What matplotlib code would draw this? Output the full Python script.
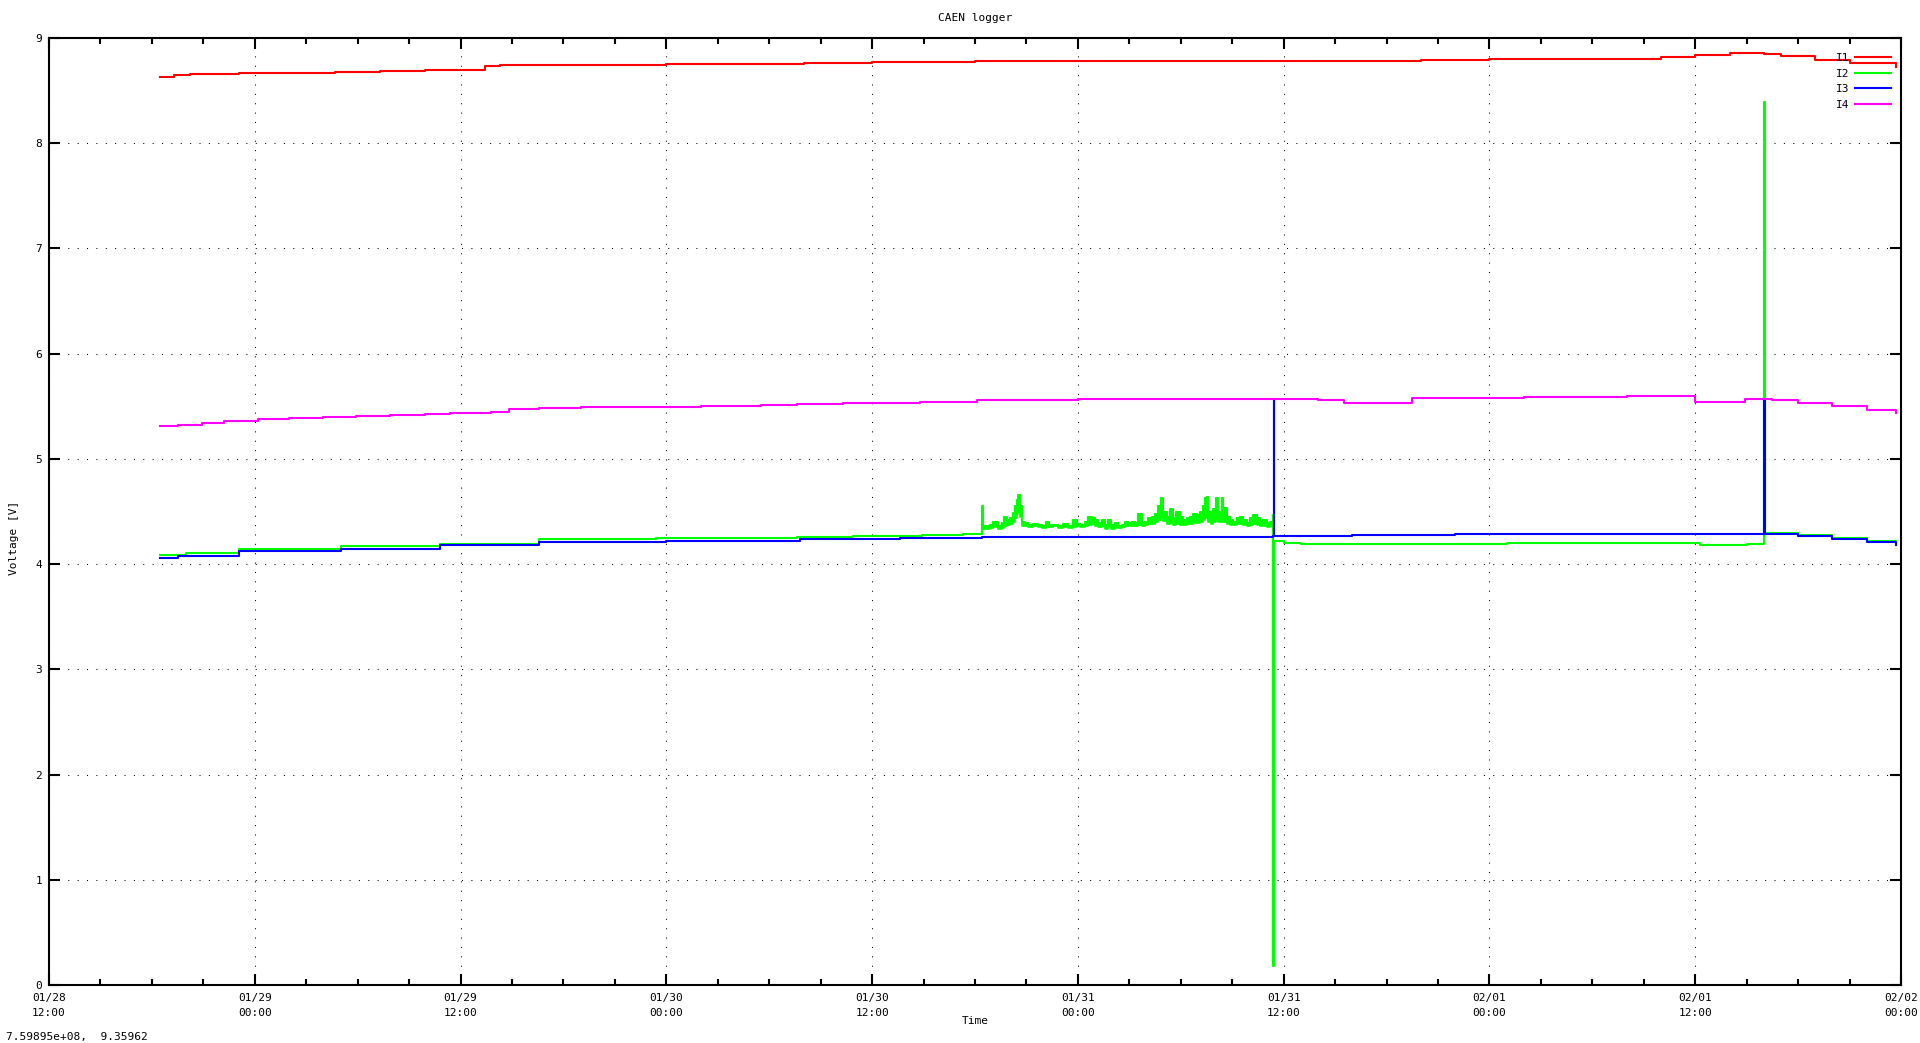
import numpy as np
import pandas as pd
import matplotlib
matplotlib.use('Agg')
import matplotlib.pyplot as plt
import matplotlib.dates as mdates

# start of the time axis, all times below are hours after this
t0 = pd.Timestamp('2024-01-28 12:00')
t_end = pd.Timestamp('2024-02-02 00:00')

# I1 (red)
i1_h = [6.5, 7.3, 8.2, 11.1, 14.0, 16.7, 19.3, 21.9, 25.4, 26.3, 28.6, 36.0, 44.0, 48.0,
        54.0, 60.0, 72.0, 80.0, 84.0, 90.0, 94.0, 96.0, 98.0, 100.0, 101.0, 103.0, 105.0, 107.7]
i1_v = [8.63, 8.645, 8.655, 8.665, 8.67, 8.68, 8.69, 8.70, 8.735, 8.745, 8.745, 8.75, 8.76, 8.77,
        8.78, 8.785, 8.785, 8.79, 8.80, 8.805, 8.82, 8.84, 8.86, 8.85, 8.83, 8.79, 8.76, 8.72]

# I2 (green) - quiet part before the noise
i2_pre_h = [6.5, 8.0, 11.1, 17.0, 22.8, 28.6, 30.0, 35.4, 43.6, 46.9, 50.9, 53.3, 54.42]
i2_pre_v = [4.09, 4.11, 4.14, 4.17, 4.19, 4.236, 4.243, 4.25, 4.26, 4.27, 4.28, 4.29, 4.55]

# I2 noisy stretch: top and bottom of the band
noise_h = [54.48, 54.87, 55.06, 55.32, 55.55, 55.70, 55.84, 56.03, 56.23, 56.33, 56.43, 56.52,
           56.62, 56.72, 56.91, 57.10, 57.39, 57.69, 57.88, 58.12, 58.31, 58.56, 58.85, 59.14,
           59.43, 59.73, 59.92, 60.12, 60.41, 60.60, 60.80, 60.99, 61.18, 61.38, 61.57, 61.77,
           61.96, 62.16, 62.35, 62.55, 62.74, 62.93, 63.13, 63.32, 63.52, 63.71, 63.91, 64.10,
           64.30, 64.49, 64.68, 64.84, 64.97, 65.17, 65.36, 65.56, 65.75, 65.95, 66.14, 66.34,
           66.53, 66.72, 66.92, 67.11, 67.31, 67.41, 67.50, 67.60, 67.75, 67.89, 68.03, 68.18,
           68.38, 68.47, 68.67, 68.86, 69.06, 69.25, 69.45, 69.64, 69.84, 70.03, 70.22, 70.42,
           70.61, 70.81, 71.00, 71.20, 71.35]
noise_hi = [4.36, 4.37, 4.40, 4.36, 4.39, 4.45, 4.42, 4.44, 4.49, 4.55, 4.61, 4.66,
            4.55, 4.40, 4.39, 4.37, 4.38, 4.37, 4.36, 4.40, 4.37, 4.37, 4.36, 4.38,
            4.36, 4.42, 4.38, 4.37, 4.40, 4.45, 4.44, 4.42, 4.39, 4.42, 4.37, 4.42,
            4.37, 4.39, 4.36, 4.37, 4.40, 4.39, 4.40, 4.39, 4.48, 4.39, 4.40, 4.44,
            4.45, 4.48, 4.55, 4.63, 4.50, 4.45, 4.52, 4.44, 4.50, 4.45, 4.42, 4.44,
            4.45, 4.48, 4.47, 4.50, 4.55, 4.63, 4.64, 4.50, 4.45, 4.52, 4.63, 4.50,
            4.63, 4.53, 4.45, 4.42, 4.40, 4.44, 4.45, 4.42, 4.39, 4.44, 4.47, 4.44,
            4.40, 4.42, 4.39, 4.40, 4.47]
noise_lo = [4.33, 4.34, 4.35, 4.33, 4.34, 4.36, 4.37, 4.38, 4.40, 4.44, 4.48, 4.50,
            4.45, 4.36, 4.36, 4.35, 4.36, 4.35, 4.34, 4.35, 4.35, 4.36, 4.34, 4.35,
            4.34, 4.35, 4.36, 4.35, 4.36, 4.37, 4.38, 4.36, 4.35, 4.36, 4.33, 4.35,
            4.33, 4.34, 4.34, 4.35, 4.36, 4.36, 4.36, 4.36, 4.37, 4.36, 4.37, 4.38,
            4.38, 4.40, 4.42, 4.44, 4.41, 4.38, 4.39, 4.37, 4.38, 4.37, 4.37, 4.38,
            4.38, 4.39, 4.39, 4.40, 4.42, 4.44, 4.45, 4.40, 4.38, 4.40, 4.43, 4.40,
            4.42, 4.40, 4.38, 4.37, 4.37, 4.38, 4.38, 4.37, 4.36, 4.37, 4.38, 4.37,
            4.36, 4.36, 4.35, 4.36, 4.38]

# I2 after the dropout
i2_post_h = [71.40, 71.45, 72.0, 73.0, 80.0, 85.0, 94.0, 96.3, 99.0, 100.0, 100.05,
             102.0, 104.0, 106.0, 107.7]
i2_post_v = [0.18, 4.22, 4.20, 4.19, 4.19, 4.20, 4.20, 4.18, 4.19, 8.39, 4.30,
             4.28, 4.25, 4.22, 4.20]

i2_h = i2_pre_h + noise_h + i2_post_h
i2_v = i2_pre_v + noise_hi + i2_post_v

# I3 (blue)
i3_h = [6.5, 7.5, 11.1, 17.0, 22.8, 28.6, 36.0, 43.8, 49.6, 54.4, 71.40, 71.42, 71.45,
        76.0, 82.0, 96.0, 99.9, 100.0, 100.05, 102.0, 104.0, 106.0, 107.7]
i3_v = [4.06, 4.08, 4.125, 4.145, 4.18, 4.214, 4.22, 4.236, 4.25, 4.26, 4.27, 5.57, 4.27,
        4.28, 4.29, 4.29, 4.29, 5.57, 4.29, 4.27, 4.24, 4.21, 4.18]

# I4 (magenta)
i4_h = [6.5, 7.5, 8.9, 10.2, 12.2, 14.0, 16.0, 17.9, 19.9, 21.9, 23.4, 25.8, 26.8, 28.6,
        31.0, 38.0, 41.5, 43.6, 46.3, 50.8, 54.1, 60.0, 70.0, 74.0, 75.5, 78.5, 79.5, 86.0,
        92.0, 95.0, 96.0, 98.9, 100.5, 102.0, 104.0, 106.0, 107.7]
i4_v = [5.31, 5.32, 5.34, 5.36, 5.38, 5.39, 5.40, 5.41, 5.42, 5.43, 5.44, 5.45, 5.47, 5.48,
        5.495, 5.505, 5.51, 5.52, 5.53, 5.54, 5.555, 5.565, 5.565, 5.56, 5.535, 5.535, 5.58, 5.585,
        5.595, 5.60, 5.545, 5.57, 5.555, 5.53, 5.50, 5.46, 5.44]

series = [('I1', i1_h, i1_v, '#ff0000'),
          ('I2', i2_h, i2_v, '#00ff00'),
          ('I3', i3_h, i3_v, '#0000ff'),
          ('I4', i4_h, i4_v, '#ff00ff')]


def to_time(hours):
    return (t0 + pd.to_timedelta(np.array(hours), unit='h')).to_numpy()


plt.rcParams['font.family'] = ['DejaVu Sans Mono']
plt.rcParams['font.size'] = 8

fig = plt.figure(figsize=(19.2, 10.43), dpi=100)
ax = fig.add_axes([49 / 1920, 58 / 1043, 1852 / 1920, 947 / 1043])

for name, hours, vals, col in series:
    ax.plot(to_time(hours), vals, color=col, lw=1.5, drawstyle='steps-post', label=name)
    if name == 'I2':
        # the noisy part is a dense band in the logger plot
        ax.fill_between(to_time(noise_h), noise_lo, noise_hi, step='post',
                        color=col, lw=1.2, edgecolor=col)

ax.set_xlim(t0.to_numpy(), t_end.to_numpy())
ax.set_ylim(0, 9)
ax.set_yticks(range(0, 10))

ax.xaxis.set_major_locator(mdates.HourLocator(byhour=[0, 12]))
ax.xaxis.set_minor_locator(mdates.HourLocator(byhour=range(0, 24, 3)))
ax.xaxis.set_major_formatter(mdates.DateFormatter('%m/%d\n%H:%M'))

for s in ax.spines.values():
    s.set_linewidth(1.5)
ax.tick_params(which='both', direction='in', top=True, right=True, width=1.5)
ax.tick_params(which='major', length=8)
ax.tick_params(which='minor', length=4)
ax.tick_params(axis='x', which='major', pad=6, labelsize=8)
ax.tick_params(axis='y', which='major', pad=5, labelsize=8)
fig.canvas.draw()
for lab in ax.get_xticklabels():
    lab.set_linespacing(1.6)

ax.grid(True, which='major', color='black', lw=0.75, linestyle=(0, (1, 8)))
ax.set_axisbelow(True)

ax.set_xlabel('Time', fontsize=8, va='center')
ax.xaxis.set_label_coords(0.5, -0.038)
ax.set_ylabel('Voltage [V]', fontsize=8, va='center')
ax.yaxis.set_label_coords(-0.019, 0.472)

fig.text(975 / 1920, 1 - 18 / 1043, 'CAEN logger', ha='center', va='center', fontsize=8)
fig.text(6 / 1920, 1 - 1037 / 1043, '7.59895e+08,  9.35962', ha='left', va='center', fontsize=8)

ax.legend(loc='upper right', bbox_to_anchor=(1891 / 1920, 1 - 53 / 1043),
          bbox_transform=fig.transFigure, frameon=False, markerfirst=False,
          handlelength=3.2, handletextpad=0.5, labelspacing=0.5,
          borderpad=0, borderaxespad=0, fontsize=8)

fig.savefig('out.png', dpi=100)
